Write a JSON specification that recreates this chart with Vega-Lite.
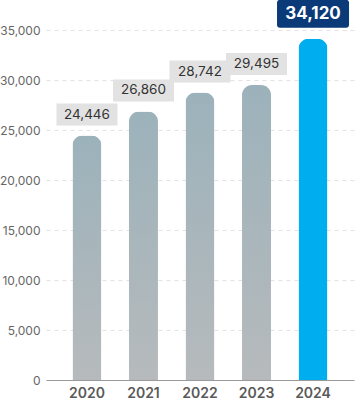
{
  "$schema": "https://vega.github.io/schema/vega-lite/v6.json",
  "width": 308,
  "height": 350,
  "autosize": {"type": "none"},
  "padding": {"left": 46, "top": 30, "right": 7, "bottom": 26},
  "background": "white",
  "config": {
    "view": {"stroke": null},
    "font": "Inter"
  },
  "data": {
    "values": [
      {"year": "2020", "value": 24446, "label": "24,446", "latest": false},
      {"year": "2021", "value": 26860, "label": "26,860", "latest": false},
      {"year": "2022", "value": 28742, "label": "28,742", "latest": false},
      {"year": "2023", "value": 29495, "label": "29,495", "latest": false},
      {"year": "2024", "value": 34120, "label": "34,120", "latest": true}
    ]
  },
  "encoding": {
    "x": {
      "field": "year",
      "type": "ordinal",
      "scale": {"paddingInner": 0.49, "paddingOuter": 0.47},
      "axis": {
        "title": null,
        "labelAngle": 0,
        "ticks": false,
        "labelPadding": 6,
        "labelFontSize": 14,
        "labelFontWeight": 600,
        "labelColor": "#5a5a5a",
        "domainColor": "#9a9a9a",
        "domainWidth": 1,
        "grid": false
      }
    },
    "y": {
      "field": "value",
      "type": "quantitative",
      "scale": {"domain": [0, 35000], "nice": false},
      "axis": {
        "title": null,
        "values": [0, 5000, 10000, 15000, 20000, 25000, 30000, 35000],
        "format": ",.0f",
        "ticks": false,
        "domain": false,
        "labelPadding": 6,
        "labelFontSize": 12,
        "labelColor": "#666666",
        "gridColor": "#e3e3e3",
        "gridDash": [4, 4],
        "gridWidth": 1
      }
    }
  },
  "layer": [
    {
      "mark": {
        "type": "bar",
        "size": 29,
        "cornerRadiusTopLeft": 10,
        "cornerRadiusTopRight": 10
      },
      "encoding": {
        "fill": {
          "condition": {"test": "datum.latest", "value": "#00aeef"},
          "value": {
            "gradient": "linear",
            "x1": 0, "y1": 0, "x2": 0, "y2": 1,
            "stops": [
              {"offset": 0, "color": "#9cb2bb"},
              {"offset": 1, "color": "#b6babc"}
            ]
          }
        }
      }
    },
    {
      "transform": [{"filter": "!datum.latest"}],
      "mark": {
        "type": "point",
        "shape": "M-1,-0.36H1V0.36H-1Z",
        "size": 3721,
        "filled": true,
        "opacity": 1,
        "fill": "#e2e2e2",
        "strokeWidth": 0,
        "yOffset": -21,
        "clip": false
      },
      "encoding": {}
    },
    {
      "transform": [{"filter": "!datum.latest"}],
      "mark": {
        "type": "text",
        "fontSize": 13.5,
        "fontWeight": 400,
        "color": "#333333",
        "baseline": "middle",
        "align": "center",
        "yOffset": -21
      },
      "encoding": {"text": {"field": "label"}}
    },
    {
      "transform": [{"filter": "datum.latest"}],
      "mark": {
        "type": "point",
        "shape": "M-0.917,-0.389H0.917Q1,-0.389 1,-0.306V0.306Q1,0.389 0.917,0.389H-0.917Q-1,0.389 -1,0.306V-0.306Q-1,-0.389 -0.917,-0.389Z",
        "size": 5184,
        "filled": true,
        "opacity": 1,
        "fill": "#0b3a78",
        "strokeWidth": 0,
        "yOffset": -25,
        "clip": false
      },
      "encoding": {}
    },
    {
      "transform": [{"filter": "datum.latest"}],
      "mark": {
        "type": "text",
        "fontSize": 17,
        "fontWeight": "bold",
        "color": "white",
        "baseline": "middle",
        "align": "center",
        "yOffset": -25
      },
      "encoding": {"text": {"field": "label"}}
    }
  ]
}
